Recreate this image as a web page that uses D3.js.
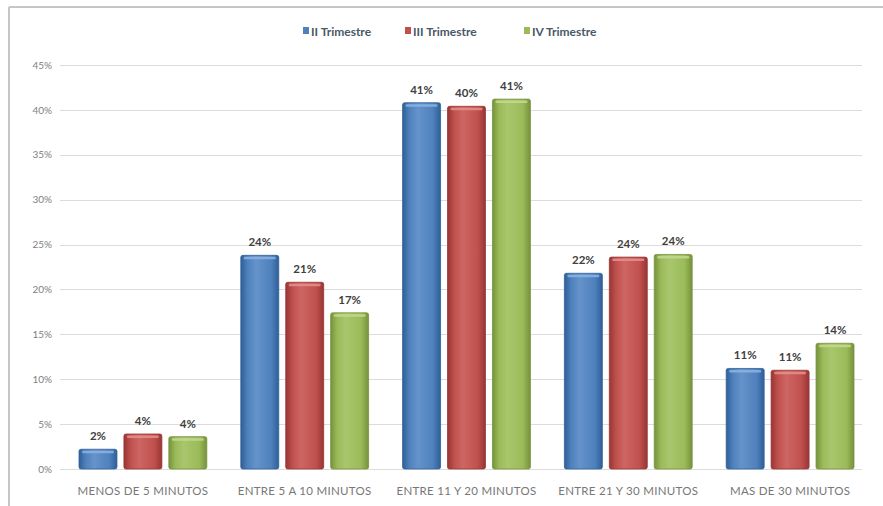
<!DOCTYPE html>
<html>
<head>
<meta charset="utf-8">
<script src="https://cdn.jsdelivr.net/npm/d3@7"></script>
<style>
  html, body { margin: 0; padding: 0; background: #fff; }
  svg { display: block; font-family: Lato, "Liberation Sans", sans-serif; }
</style>
</head>
<body>
<svg id="chart" width="883" height="506"></svg>
<script>
// Waiting-time categories and share of cases per quarter
const categories = ["MENOS DE 5 MINUTOS", "ENTRE 5 A 10 MINUTOS", "ENTRE 11 Y 20 MINUTOS", "ENTRE 21 Y 30 MINUTOS", "MAS DE 30 MINUTOS"];
const seriesNames = ["II Trimestre", "III Trimestre", "IV Trimestre"];
const trimestreII  = [0.022, 0.238, 0.408, 0.218, 0.112];
const trimestreIII = [0.039, 0.208, 0.404, 0.236, 0.110];
const trimestreIV  = [0.036, 0.174, 0.412, 0.239, 0.140];
const yTicks = [0, 0.05, 0.10, 0.15, 0.20, 0.25, 0.30, 0.35, 0.40, 0.45];

const seriesValues = [trimestreII, trimestreIII, trimestreIV];
const colors = ["#4F81BD", "#C0504D", "#9BBB59"];
const darks  = ["#2f5f98", "#973634", "#76923c"];
const lights = ["#8db3e2", "#e6908d", "#c3d98f"];

const svg = d3.select("#chart");
const W = 883, H = 506;

// chart frame (top and left edges)
svg.append("line").attr("x1", 9).attr("x2", W).attr("y1", 7).attr("y2", 7)
  .attr("stroke", "#c6c6c6").attr("stroke-width", 2);
svg.append("line").attr("x1", 9).attr("x2", 9).attr("y1", 7).attr("y2", H)
  .attr("stroke", "#c6c6c6").attr("stroke-width", 2);

const y = d3.scaleLinear().domain([0, 0.45]).range([469, 65]);
const x0 = d3.scaleBand().domain(categories).range([62, 871]).paddingInner(0).paddingOuter(0);
const x1 = d3.scaleBand().domain(seriesNames).range([17, x0.bandwidth() - 17]).paddingInner(0.155).paddingOuter(0);

// gradients for the rounded bar look
const defs = svg.append("defs");
colors.forEach((c, i) => {
  const g = defs.append("linearGradient").attr("id", "grad" + i)
    .attr("x1", "0%").attr("x2", "100%").attr("y1", "0%").attr("y2", "0%");
  g.append("stop").attr("offset", "0%").attr("stop-color", darks[i]);
  g.append("stop").attr("offset", "18%").attr("stop-color", c);
  g.append("stop").attr("offset", "40%").attr("stop-color", d3.interpolateRgb(c, lights[i])(0.35));
  g.append("stop").attr("offset", "80%").attr("stop-color", c);
  g.append("stop").attr("offset", "100%").attr("stop-color", darks[i]);
});

// y axis labels
const yAxis = d3.axisLeft(y).tickValues(yTicks).tickFormat(d3.format(".0%")).tickSize(0).tickPadding(0);
const gAxis = svg.append("g").attr("transform", "translate(52,0)").call(yAxis);
gAxis.select(".domain").remove();
gAxis.selectAll("text").attr("fill", "#808080").style("font-size", "10px").style("font-family", "Lato, sans-serif");

// gridlines
svg.append("g").selectAll("line").data(yTicks).join("line")
  .attr("x1", 60).attr("x2", 862)
  .attr("y1", d => Math.round(y(d)) + 0.5).attr("y2", d => Math.round(y(d)) + 0.5)
  .attr("stroke", "#dcdcdc").attr("stroke-width", 1);

// bars
const groups = svg.append("g").selectAll("g").data(categories).join("g")
  .attr("transform", d => `translate(${x0(d)},0)`);

const bars = groups.selectAll("g.bar").data((d, ci) => seriesNames.map((s, si) => ({ s, si, v: seriesValues[si][ci] })))
  .join("g").attr("class", "bar");

bars.append("rect")
  .attr("x", d => x1(d.s)).attr("width", x1.bandwidth())
  .attr("y", d => y(d.v)).attr("height", d => y(0) - y(d.v))
  .attr("rx", 2)
  .attr("fill", d => `url(#grad${d.si})`)
  .attr("stroke", d => darks[d.si]).attr("stroke-width", 0.8);

// top bevel highlight
bars.append("rect")
  .attr("x", d => x1(d.s) + 3).attr("width", x1.bandwidth() - 6)
  .attr("y", d => y(d.v) + 1.5).attr("height", 2.5)
  .attr("rx", 1.2)
  .attr("fill", d => lights[d.si]).attr("opacity", 0.85);

// value labels
bars.append("text")
  .attr("x", d => x1(d.s) + x1.bandwidth() / 2)
  .attr("y", d => y(d.v) - 9)
  .attr("text-anchor", "middle")
  .attr("fill", "#404040")
  .style("font-size", "11.5px").style("font-weight", "bold")
  .text(d => d3.format(".0%")(d.v));

// category labels
svg.append("g").selectAll("text").data(categories).join("text")
  .attr("x", d => x0(d) + x0.bandwidth() / 2)
  .attr("y", 495)
  .attr("text-anchor", "middle")
  .attr("fill", "#777777")
  .style("font-size", "11.5px")
  .style("letter-spacing", "0.3px")
  .text(d => d);

// legend
const legendX = [303, 405, 524];
const legend = svg.append("g").selectAll("g").data(seriesNames).join("g")
  .attr("transform", (d, i) => `translate(${legendX[i]},26)`);
legend.append("rect").attr("x", 0).attr("y", 1).attr("width", 6).attr("height", 7)
  .attr("fill", (d, i) => colors[i]);
legend.append("text").attr("x", 8).attr("y", 9.5)
  .attr("fill", "#4a5868")
  .style("font-size", "12px").style("font-weight", "bold")
  .text(d => d);
</script>
</body>
</html>
